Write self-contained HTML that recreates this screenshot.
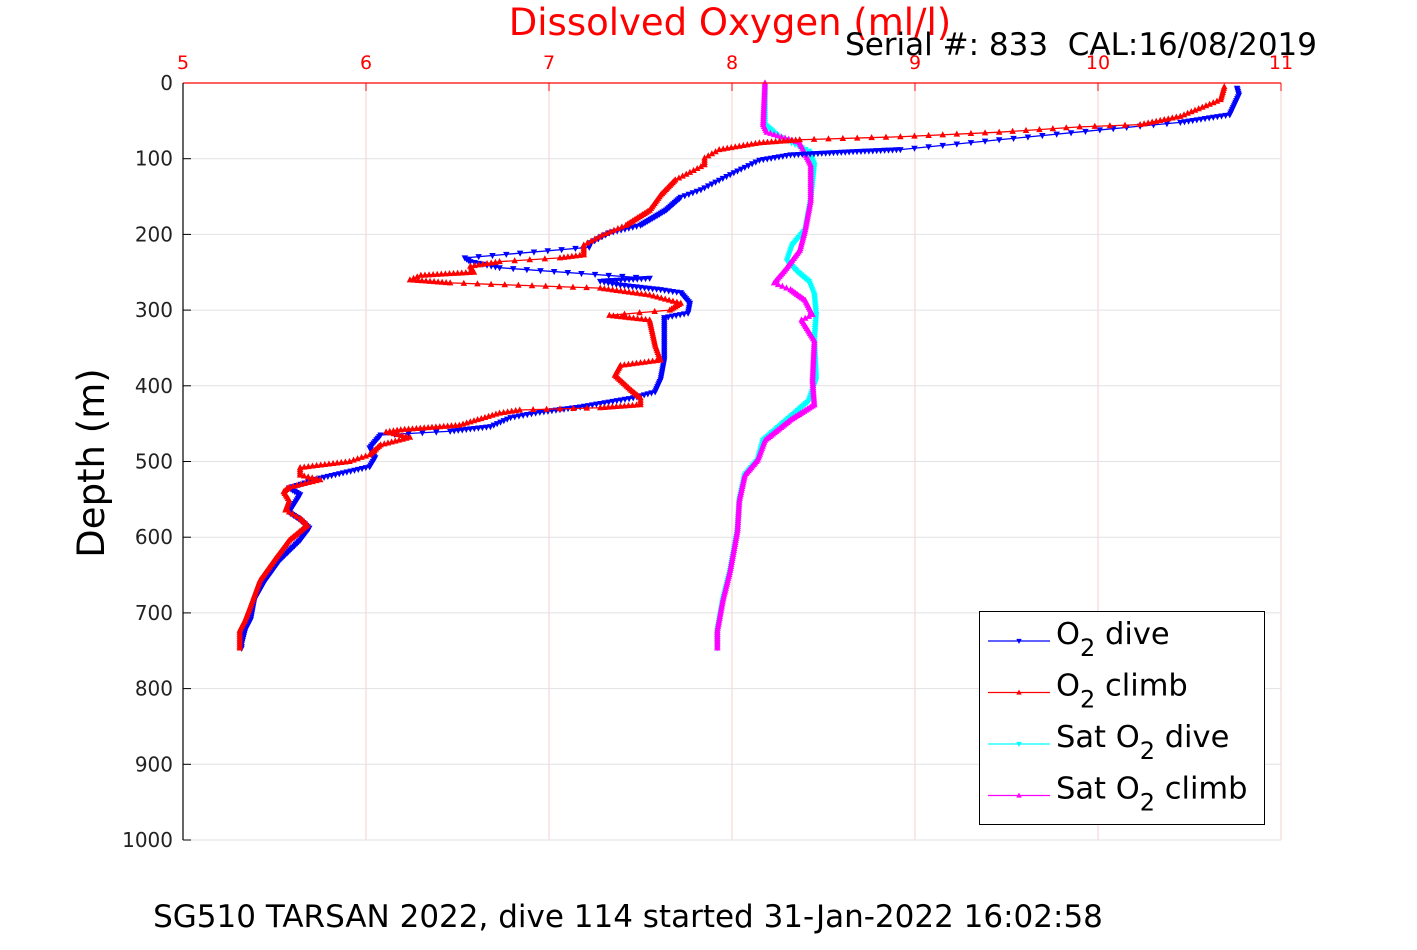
<!DOCTYPE html>
<html><head><meta charset="utf-8"><style>
body{margin:0;background:#fff;font-family:"Liberation Sans","DejaVu Sans",sans-serif}
svg text{font-family:"DejaVu Sans","Liberation Sans",sans-serif}
</style></head><body>
<svg id="c" width="1417" height="945" xmlns="http://www.w3.org/2000/svg">
<rect width="1417" height="945" fill="#fff"/>
<g id="grid"></g>
<g id="series"></g>
<g id="axes"></g>
<text x="730" y="35" font-size="37" fill="#ff0000" text-anchor="middle">Dissolved Oxygen (ml/l)</text>
<text x="1317" y="55" font-size="31" fill="#000" text-anchor="end" xml:space="preserve" style="white-space:pre">Serial #: 833  CAL:16/08/2019</text>
<text transform="translate(104,463) rotate(-90)" font-size="37" text-anchor="middle">Depth (m)</text>
<text x="628" y="927" font-size="31" text-anchor="middle">SG510 TARSAN 2022, dive 114 started 31-Jan-2022 16:02:58</text>
<g>
<rect x="979.5" y="611.5" width="285" height="213" fill="#fff" stroke="#000" stroke-width="1"/>
<g id="legend"></g>
</g>
</svg>
<script>
const xTicks=[5,6,7,8,9,10,11];
const yTicks=[0,100,200,300,400,500,600,700,800,900,1000];
const diveDepth=[7,16,42,52,62,75,88,91,95,102,121,141,151,168,188,198,211,217,231,236,244,258,262,267,273,277,291,304,310,326,366,392,408,416,428,435,442,454,460,465,482,495,507,522,535,544,567,577,588,604,630,657,683,709,723,742,749];
const diveO2=[10.76,10.77,10.72,10.45,10.01,9.46,8.92,8.64,8.32,8.15,7.99,7.83,7.72,7.64,7.50,7.33,7.23,7.22,6.54,6.57,6.73,7.55,7.28,7.39,7.61,7.72,7.77,7.76,7.63,7.63,7.63,7.61,7.58,7.46,7.17,6.95,6.79,6.68,6.46,6.08,6.02,6.05,6.02,5.75,5.58,5.64,5.58,5.64,5.69,5.64,5.53,5.45,5.39,5.37,5.34,5.32,5.32];
const climbDepth=[5,22,44,55,58,65,71,75,79,88,99,108,118,128,148,168,188,201,214,227,231,236,242,250,254,260,264,271,280,291,300,307,313,346,366,373,386,406,416,425,429,432,436,452,458,461,468,478,491,500,508,518,524,534,540,551,564,575,584,604,630,657,690,709,723,749];
const climbO2=[10.69,10.67,10.45,10.23,9.90,9.46,8.92,8.37,8.15,7.93,7.85,7.85,7.77,7.69,7.61,7.55,7.42,7.29,7.19,7.19,7.06,6.73,6.57,6.59,6.30,6.24,6.46,7.28,7.55,7.72,7.66,7.33,7.55,7.58,7.61,7.39,7.36,7.45,7.50,7.50,7.28,6.84,6.73,6.51,6.19,6.11,6.24,6.08,6.02,5.91,5.64,5.64,5.75,5.58,5.55,5.58,5.56,5.64,5.68,5.58,5.50,5.42,5.37,5.34,5.31,5.31];
const satClimbDepth=[0,55,65,79,108,155,194,221,247,264,273,287,306,313,340,392,425,445,472,498,518,551,591,644,683,723,749];
const satClimb=[8.18,8.17,8.19,8.37,8.43,8.43,8.40,8.37,8.29,8.23,8.32,8.40,8.44,8.38,8.45,8.44,8.45,8.32,8.18,8.14,8.07,8.04,8.03,7.99,7.95,7.92,7.92];
const satDiveDepth=[5,55,70,90,108,155,194,214,235,250,262,280,306,340,392,420,445,472,498,518,551,591,644,683,723,749];
const satDive=[8.18,8.18,8.25,8.42,8.45,8.43,8.40,8.33,8.30,8.36,8.42,8.45,8.46,8.45,8.46,8.42,8.30,8.17,8.14,8.07,8.04,8.03,7.99,7.95,7.92,7.92];
const X0=183,X1=1281,Y0=83,Y1=840;
const xs=v=>X0+(v-5)/6*(X1-X0);
const ys=d=>Y0+d/1000*(Y1-Y0);
const NS="http://www.w3.org/2000/svg";
function mk(tag,attrs,parent){const e=document.createElementNS(NS,tag);for(const k in attrs)e.setAttribute(k,attrs[k]);parent.appendChild(e);return e;}
const grid=document.getElementById('grid'),axes=document.getElementById('axes'),ser=document.getElementById('series'),leg=document.getElementById('legend');
xTicks.forEach(t=>{
 const l=mk('line',{x1:xs(t),x2:xs(t),y1:Y0,y2:Y1,stroke:'#f6d0d0','stroke-width':1},grid);
 
 
 const tk=mk('line',{x1:xs(t),x2:xs(t),y1:Y0,y2:Y0+8,stroke:'#ff0000'},axes);
 
 
 const tx=mk('text',{x:xs(t),y:Y0-14,'font-size':19,fill:'#ff0000','text-anchor':'middle'},axes);
 tx.textContent=t;
 
 
});
yTicks.forEach(t=>{
 const l=mk('line',{x1:X0,x2:X1,y1:ys(t),y2:ys(t),stroke:'#e2e2e2','stroke-width':1},grid);
 
 
 const tk=mk('line',{x1:X0,x2:X0+8,y1:ys(t),y2:ys(t),stroke:'#000'},axes);
 
 
 const tx=mk('text',{x:X0-10,y:ys(t)+7,'font-size':20,fill:'#222','text-anchor':'end'},axes);
 tx.textContent=t;
 
 
});
const ax1=mk('line',{x1:X0,x2:X1,y1:Y0,y2:Y0,stroke:'#ff0000','stroke-width':1.2},axes);


const ax2=mk('line',{x1:X0,x2:X0,y1:Y0,y2:Y1,stroke:'#000','stroke-width':1.2},axes);


function tri(x,y,up,c,p,s){const h=s;const pts=up?`${x},${y-h} ${x-h*0.9},${y+h*0.7} ${x+h*0.9},${y+h*0.7}`:`${x},${y+h} ${x-h*0.9},${y-h*0.7} ${x+h*0.9},${y-h*0.7}`;return mk('polygon',{points:pts,fill:c},p);}
function draw(vals,depths,color,up,name){
 const g=mk('g',{},ser);
 
 
 const pts=vals.map((v,i)=>[xs(v),ys(depths[i])]);
 mk('polyline',{points:pts.map(p=>p.join(',')).join(' '),fill:'none',stroke:color,'stroke-width':1.3},g);
 for(let i=0;i<pts.length-1;i++){
  const [ax,ay]=pts[i],[bx,by]=pts[i+1];
  const dy=Math.abs(by-ay),dl=Math.hypot(bx-ax,by-ay);
  const step=dy/dl>0.5?2:(dl>60?14:4);
  const n=Math.max(1,Math.round(dl/step));
  for(let k=0;k<n;k++){const t=k/n;tri(ax+(bx-ax)*t,ay+(by-ay)*t,up,color,g,3.6);}
 }
}
draw(satDive,satDiveDepth,'#00ffff',false,'sat-o2-dive-series');
draw(satClimb,satClimbDepth,'#ff00ff',true,'sat-o2-climb-series');
draw(diveO2,diveDepth,'#0000ff',false,'o2-dive-series');
draw(climbO2,climbDepth,'#ff0000',true,'o2-climb-series');
const legItems=[['#0000ff',false,'O','2',' dive'],['#ff0000',true,'O','2',' climb'],['#00ffff',false,'Sat O','2',' dive'],['#ff00ff',true,'Sat O','2',' climb']];
legItems.forEach((it,i)=>{
 const y=641+i*51.5;
 const g=mk('g',{},leg);
 
 
 mk('line',{x1:988,x2:1050,y1:y,y2:y,stroke:it[0],'stroke-width':1.2},g);
 tri(1019,y,it[1],it[0],g,3);
 const t=mk('text',{x:1056,y:y+3,'font-size':30.5},g);
 t.innerHTML=`${it[2]}<tspan dy="12" font-size="24">${it[3]}</tspan><tspan dy="-12">${it[4]}</tspan>`;
});
</script>
</body></html>
